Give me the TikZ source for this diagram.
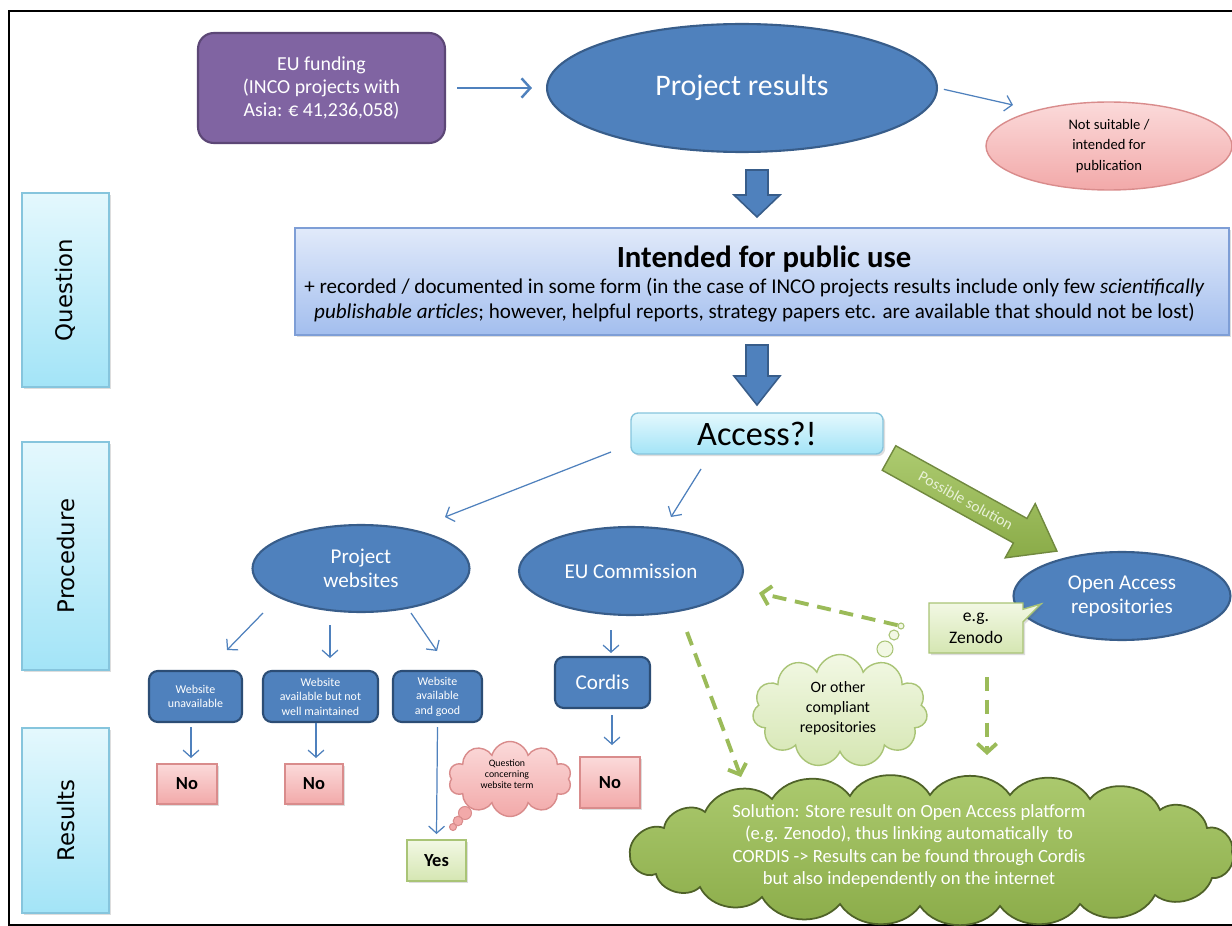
\documentclass[tikz,border=0pt]{standalone}
\usepackage{fontspec}
\setmainfont{Carlito}
\newfontfamily\dejavu{DejaVu Sans}
\usetikzlibrary{arrows.meta,shapes.geometric,shapes.symbols,shapes.callouts,shadows}

\definecolor{eublue}{HTML}{4F81BD}
\definecolor{eubluedk}{HTML}{385D8A}
\definecolor{boxbluedk}{HTML}{2C4D75}
\definecolor{purp}{HTML}{8064A2}
\definecolor{purpdk}{HTML}{5C4776}
\definecolor{pinkt}{HTML}{FBDADA}
\definecolor{pinkb}{HTML}{F2A9A9}
\definecolor{pinkdk}{HTML}{D98C8C}
\definecolor{ibt}{HTML}{E1EAFA}
\definecolor{ibb}{HTML}{A3BEEE}
\definecolor{ibdk}{HTML}{7E9ED6}
\definecolor{cyt}{HTML}{E4F8FD}
\definecolor{cyb}{HTML}{A3E4F7}
\definecolor{cydk}{HTML}{86C5DD}
\definecolor{grn}{HTML}{9BBB59}
\definecolor{grndk}{HTML}{71893F}
\definecolor{grnt}{HTML}{ADCB70}
\definecolor{grnb}{HTML}{8AAB48}
\definecolor{lgt}{HTML}{F2F8E4}
\definecolor{lgb}{HTML}{D5E6B2}
\definecolor{lgdk}{HTML}{A9C476}
\definecolor{olive}{HTML}{4F6228}
\definecolor{soltxt}{HTML}{E8F1D6}

\tikzset{
  softshadow/.style={drop shadow={opacity=0.22,shadow xshift=1.2pt,shadow yshift=-1.2pt,fill=black!60}},
  sidebox/.style={rectangle, draw=cydk, line width=0.8pt, top color=cyt, bottom color=cyb, softshadow},
  sidetext/.style={rotate=90, font=\dejavu\fontsize{13}{15}\selectfont, text=black},
  purpbox/.style={rectangle, rounded corners=9pt, draw=purpdk, line width=1.2pt, fill=purp, text=white, align=center, font=\fontsize{11.3}{13}\selectfont},
  blueell/.style={ellipse, draw=eubluedk, line width=1.2pt, fill=eublue, text=white, inner sep=0pt, align=center},
  pinkell/.style={ellipse, draw=pinkdk, line width=0.8pt, top color=pinkt, bottom color=pinkb, text=black, inner sep=0pt, align=center},
  ibox/.style={rectangle, draw=ibdk, line width=0.8pt, top color=ibt, bottom color=ibb, softshadow},
  accbox/.style={rectangle, rounded corners=4pt, draw=cydk, line width=0.8pt, top color=cyt, bottom color=cyb, softshadow},
  bigarr/.style={draw=eubluedk, line width=0.9pt, fill=eublue, line join=miter},
  thinarr/.style={draw=eublue, line width=0.7pt, -{Straight Barb[length=4pt,width=9pt]}},
  medarr/.style={draw=eublue, line width=1.4pt, -{Straight Barb[length=5pt,width=11pt]}},
  dasharr/.style={draw=grn, line width=2.2pt, dash pattern=on 8pt off 5pt, -{Straight Barb[length=5pt,width=11pt]}},
  webbox/.style={rectangle, rounded corners=5pt, draw=boxbluedk, line width=1.2pt, fill=eublue, text=white, align=center, minimum height=1.02cm, inner sep=1pt, font=\fontsize{6.8}{8.3}\selectfont},
  nobox/.style={rectangle, draw=pinkdk, line width=0.8pt, top color=pinkt, bottom color=pinkb, text=black, font=\fontsize{10.5}{12}\selectfont\bfseries, softshadow},
  yesbox/.style={rectangle, draw=lgdk, line width=0.8pt, top color=lgt, bottom color=lgb, text=black, softshadow},
  bubble/.style={circle, inner sep=0pt},
  puff/.style={bend left=#1},
}

\begin{document}
\begin{tikzpicture}[x=0.02cm,y=-0.02cm]
\useasboundingbox (0,0) rectangle (1232,926);
\fill[white] (0,0) rectangle (1232,926);
% frame
\draw[line width=0.9pt] (9,926) -- (9,11) -- (1232,11);
\draw[line width=0.9pt] (9,925) -- (1232,925);

% side labels
\node[sidebox, minimum width=1.74cm, minimum height=3.88cm] (qbox) at (65.5,290) {};
\node[sidetext] (qtext) at (qbox) {Question};
\node[sidebox, minimum width=1.74cm, minimum height=4.56cm] (pbox) at (65.5,556) {};
\node[sidetext] (ptext) at (pbox) {Procedure};
\node[sidebox, minimum width=1.74cm, minimum height=3.7cm] (rbox) at (65.5,820.5) {};
\node[sidetext] (rtext) at (rbox) {Results};

% top row
\node[purpbox, minimum width=4.94cm, minimum height=2.2cm] (fund) at (321.5,88) {EU funding\\(INCO projects with\\Asia: € 41,236,058)};
\node[blueell, minimum width=7.8cm, minimum height=2.56cm, font=\fontsize{17}{20}\selectfont] (res) at (742,88) {Project results};
\node[pinkell, minimum width=4.92cm, minimum height=1.76cm, font=\fontsize{8.3}{11.5}\selectfont] (ns) at (1109,146) {Not suitable /\\intended for\\publication};
\draw[medarr, shorten <=0.22cm, shorten >=0.28cm] (fund) -- (res);
\coordinate (nsTip) at (1013,105);
\draw[thinarr, shorten <=0.12cm] (res.east) -- (nsTip);

% big down arrows
\coordinate (ba1) at (757,170);
\draw[bigarr] (ba1) ++(-11,0) -- ++(22,0) -- ++(0,25) -- ++(12,0) -- ++(-23,22) -- ++(-23,-22) -- ++(12,0) -- cycle;
\coordinate (ba2) at (757,345);
\draw[bigarr] (ba2) ++(-11,0) -- ++(22,0) -- ++(0,31) -- ++(12,0) -- ++(-23,29) -- ++(-23,-29) -- ++(12,0) -- cycle;

% intended for public use
\node[ibox, minimum width=18.68cm, minimum height=2.14cm] (ipu) at (762,281.5) {};
\node[font=\fontsize{17.5}{20}\selectfont\bfseries] (iputitle) at (764,259) {Intended for public use};
\node[align=center, font=\fontsize{12}{14}\selectfont] (ipusub) at (754.5,300) {+ recorded / documented in some form (in the case of INCO projects results include only few \textit{scientifically}\\\textit{publishable articles}; however, helpful reports, strategy papers etc. are available that should not be lost)};

% access
\node[accbox, minimum width=5.04cm, minimum height=0.82cm, font=\fontsize{19.5}{22}\selectfont] (acc) at (757,433.5) {Access?!};

% procedure ellipses
\node[blueell, minimum width=4.34cm, minimum height=1.74cm, font=\fontsize{12}{13.5}\selectfont] (pw) at (361,568.5) {Project\\websites};
\node[blueell, minimum width=4.48cm, minimum height=1.76cm, font=\fontsize{12}{13.5}\selectfont] (euc) at (631,571) {EU Commission};
\node[blueell, minimum width=4.34cm, minimum height=1.76cm, font=\fontsize{12}{13.5}\selectfont] (oa) at (1122,596) {Open Access\\repositories};

\coordinate (apS) at (611,452); \coordinate (apE) at (445,517);
\draw[thinarr] (apS) -- (apE);
\coordinate (aeS) at (701,469); \coordinate (aeE) at (671,517);
\draw[thinarr] (aeS) -- (aeE);

% green block arrow
\begin{scope}[shift={(889,458)}, rotate=-29]
  \draw[draw=grndk, line width=0.8pt, top color=grnt, bottom color=grnb, line join=miter]
    (0,-14) -- (150,-14) -- (150,-31) -- (192,0) -- (150,31) -- (150,14) -- (0,14) -- cycle;
  \node[rotate=-29, text=soltxt, font=\fontsize{8.8}{10}\selectfont] (possol) at (88,0) {Possible solution};
\end{scope}

% website boxes
\node[webbox, minimum width=1.86cm] (b1) at (195.5,696.5) {Website\\unavailable};
\node[webbox, minimum width=2.3cm] (b2) at (320.5,696.5) {Website\\available but not\\well maintained};
\node[webbox, minimum width=1.78cm] (b3) at (437.5,696.5) {Website\\available\\and good};
\coordinate (w1S) at (263,613); \coordinate (w1E) at (227,650);
\coordinate (w2S) at (330,625); \coordinate (w2E) at (330,658);
\coordinate (w3S) at (411,613); \coordinate (w3E) at (437,651);
\draw[thinarr] (w1S) -- (w1E);
\draw[thinarr] (w2S) -- (w2E);
\draw[thinarr] (w3S) -- (w3E);

% cordis
\node[webbox, minimum width=1.9cm, font=\fontsize{12}{14}\selectfont] (cordis) at (602.5,682.5) {Cordis};
\coordinate (ecS) at (611,630);
\draw[thinarr] (ecS) -- (611,653) coordinate (ecE);

% results
\node[nobox, minimum width=1.2cm, minimum height=0.8cm] (no1) at (187,784) {No};
\node[nobox, minimum width=1.16cm, minimum height=0.8cm] (no2) at (314,784) {No};
\node[nobox, minimum width=1.2cm, minimum height=1.02cm] (no3) at (610,782.5) {No};
\node[yesbox, minimum width=1.18cm, minimum height=0.82cm, font=\fontsize{10.5}{12}\selectfont\bfseries] (yes) at (436.5,860.5) {Yes};

\draw[thinarr] (191,727) coordinate (n1S) -- (191,758) coordinate (n1E);
\draw[thinarr] (316,723) coordinate (n2S) -- (316,758) coordinate (n2E);
\draw[thinarr] (612,715) coordinate (n3S) -- (612,745) coordinate (n3E);

% pink thought cloud
\node[cloud, cloud puffs=10, aspect=1.7, draw=pinkdk, line width=0.8pt, top color=pinkt, bottom color=pinkb, minimum width=2.46cm, minimum height=1.5cm, inner sep=0pt] (qc) at (510,779) {};
\node[align=center, font=\fontsize{5.6}{6.1}\selectfont] (qctext) at (507,774) {Question\\concerning\\website term};
\node[bubble, draw=pinkdk, line width=0.6pt, fill=pinkb, minimum size=0.26cm] (qb1) at (465,813) {};
\node[bubble, draw=pinkdk, line width=0.6pt, fill=pinkb, minimum size=0.19cm] (qb2) at (458,821) {};
\node[bubble, draw=pinkdk, line width=0.6pt, fill=pinkb, minimum size=0.14cm] (qb3) at (453,827) {};
\draw[thinarr] (b3.south |- 0,727) coordinate (ySt) -- (yes.north |- 0,834) coordinate (yEn);

% open access extras
\node[rectangle callout, callout absolute pointer={(1041,604)}, callout pointer width=0.25cm, draw=lgdk, line width=0.8pt, top color=lgt, bottom color=lgb, minimum width=1.88cm, minimum height=1.0cm, align=center, font=\fontsize{10}{12.5}\selectfont, softshadow] (egz) at (976,628) {e.g.\\Zenodo};

% green thought cloud
\node[cloud, cloud puffs=11, aspect=1.5, draw=lgdk, line width=0.8pt, top color=lgt, bottom color=lgb, minimum width=3.5cm, minimum height=2.26cm, inner sep=0pt] (oc) at (840,711) {};
\node[align=center, font=\fontsize{9}{11.3}\selectfont] (octext) at (838,708) {Or other\\compliant\\repositories};
\node[bubble, draw=lgdk, line width=0.6pt, fill=lgt, minimum size=0.32cm] (ob1) at (885,649) {};
\node[bubble, draw=lgdk, line width=0.6pt, fill=lgt, minimum size=0.2cm] (ob2) at (894,635) {};
\node[bubble, draw=lgdk, line width=0.6pt, fill=lgt, minimum size=0.12cm] (ob3) at (901,626) {};

% big solution cloud (drawn as a shape)
\path[draw=olive, line width=1pt, top color=grnt, bottom color=grnb]
  (630,855) to[puff=60] (664,828) to[puff=60] (705,812) to[puff=55] (772,799)
  to[puff=55] (850,796) to[puff=60] (930,795) to[puff=55] (1010,795)
  to[puff=55] (1090,799) to[puff=60] (1160,810) to[puff=60] (1207,828)
  to[puff=60] (1232,852) to[puff=60] (1212,878) to[puff=55] (1155,895)
  to[puff=55] (1080,904) to[puff=55] (1000,906) to[puff=55] (920,906)
  to[puff=55] (840,904) to[puff=55] (762,897) to[puff=55] (700,887)
  to[puff=60] (656,874) to[puff=60] cycle;
\node[align=center, text=white, font=\fontsize{10.6}{12.8}\selectfont] (sol) at (909,846) {Solution: Store result on Open Access platform\\(e.g. Zenodo), thus linking automatically\ \ to\\CORDIS -> Results can be found through\ Cordis\\but also independently on the internet};

% dashed green arrows
\coordinate (d1S) at (687,632); \coordinate (d1E) at (741,777);
\draw[dasharr] (d1S) -- (d1E);
\coordinate (d2E) at (759,593);
\draw[dasharr] (ob3) -- (d2E);
\coordinate (d3S) at (987,677); \coordinate (d3E) at (987,755);
\draw[dasharr] (d3S) -- (d3E);
\end{tikzpicture}
\end{document}
